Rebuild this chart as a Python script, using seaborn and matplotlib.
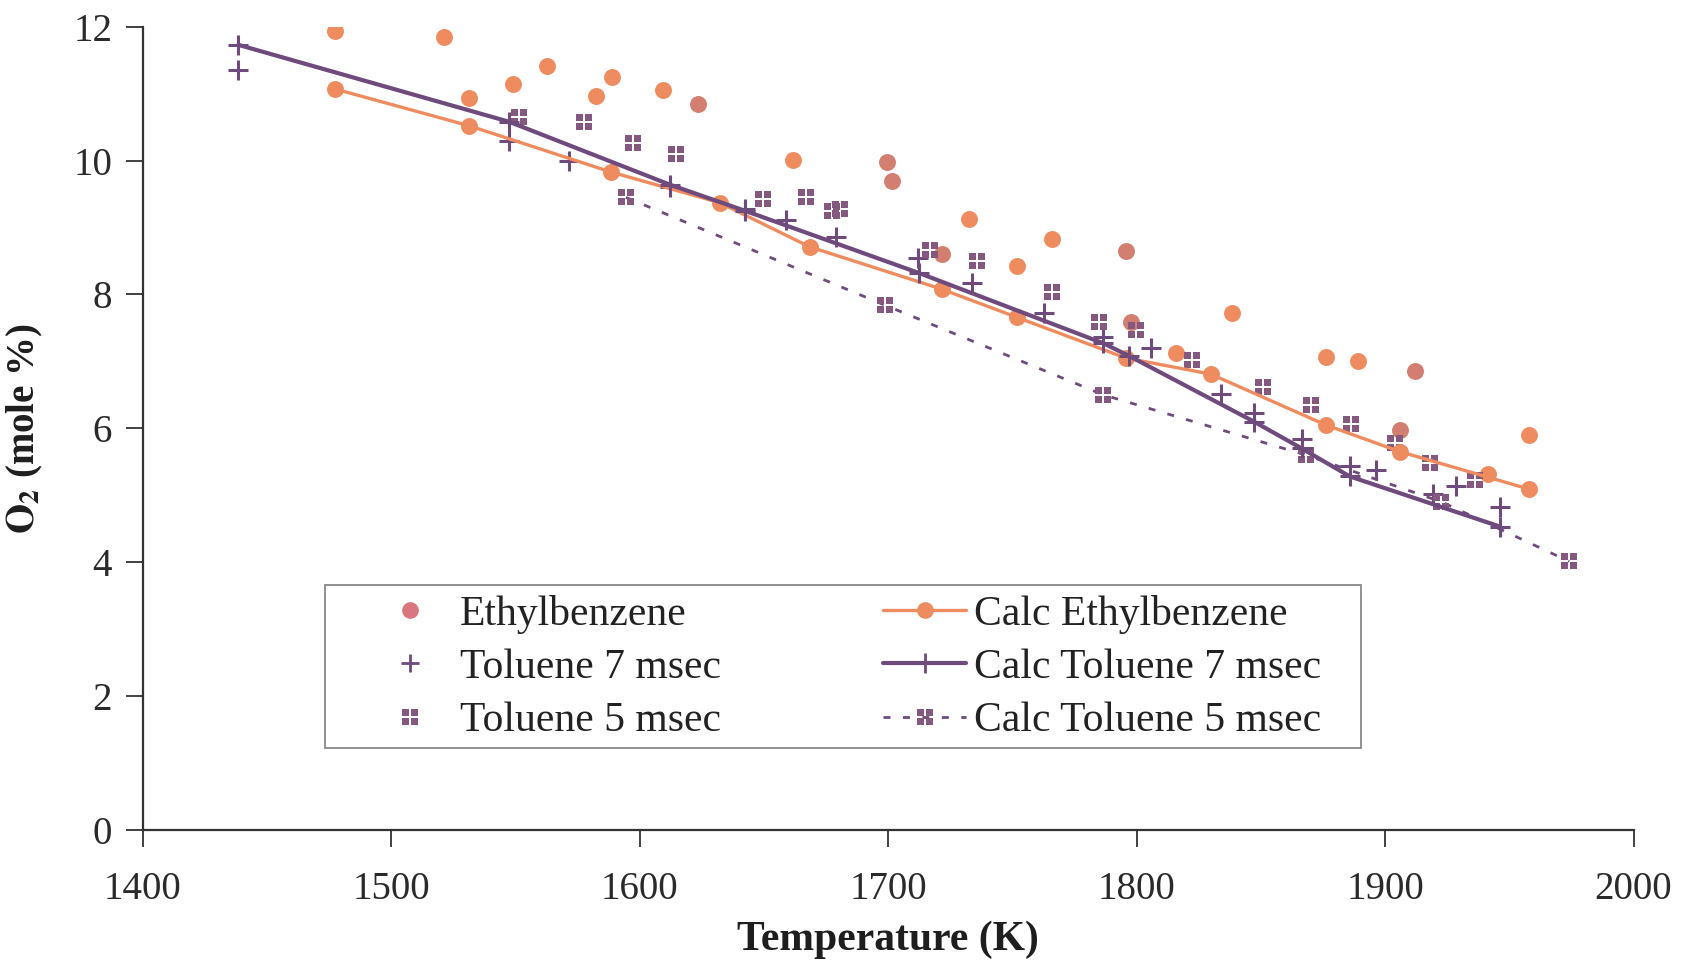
import numpy as np
import pandas as pd
import matplotlib
matplotlib.use("Agg")
import matplotlib.pyplot as plt
from matplotlib.path import Path
from matplotlib.lines import Line2D
from matplotlib.patches import Rectangle
import seaborn as sns

# ---------------- data ----------------
# Experimental ethylbenzene (darker rose circles)
eth_T = [1623.3, 1699.6, 1701.6, 1721.5, 1795.6, 1797.7, 1906.0, 1912.0]
eth_O2 = [10.85, 9.98, 9.70, 8.61, 8.65, 7.59, 5.97, 6.85]
# Additional ethylbenzene points (orange circles off the calc curve)
eth2_T = [1477.4, 1521.4, 1531.4, 1549.1, 1562.6, 1582.4, 1588.7, 1609.3,
          1661.6, 1732.6, 1751.7, 1765.8, 1815.7, 1838.6, 1876.1, 1889.0, 1958.0]
eth2_O2 = [11.93, 11.85, 10.94, 11.15, 11.42, 10.96, 11.25, 11.06,
           10.01, 9.13, 8.43, 8.83, 7.12, 7.72, 7.07, 7.00, 5.90]

# Experimental toluene 7 msec
tol7_T = [1438.5, 1547.5, 1571.5, 1612.2, 1642.4, 1658.8, 1679.0, 1711.9, 1733.9,
          1762.7, 1786.6, 1805.8, 1833.8, 1847.2, 1866.4, 1885.8, 1896.3, 1919.1,
          1928.5, 1946.3]
tol7_O2 = [11.36, 10.29, 9.99, 9.61, 9.28, 9.11, 8.86, 8.54, 8.17,
           7.72, 7.37, 7.20, 6.51, 6.23, 5.84, 5.43, 5.37, 5.02,
           5.13, 4.83]

# Experimental toluene 5 msec
tol5_T = [1551.4, 1577.6, 1597.4, 1614.6, 1649.7, 1666.8, 1677.3, 1680.6, 1716.8,
          1735.9, 1765.8, 1784.9, 1799.7, 1822.5, 1851.0, 1870.0, 1886.1, 1903.9,
          1918.0, 1936.1]
tol5_O2 = [10.65, 10.57, 10.26, 10.10, 9.43, 9.45, 9.24, 9.28, 8.66,
           8.50, 8.03, 7.59, 7.47, 7.02, 6.61, 6.35, 6.07, 5.78,
           5.48, 5.23]

# Calculated curves
calc_eth_T = [1477.4, 1531.4, 1588.4, 1632.3, 1668.5, 1721.5, 1751.7, 1795.6,
              1829.8, 1876.1, 1906.0, 1958.0]
calc_eth_O2 = [11.07, 10.52, 9.83, 9.37, 8.71, 8.08, 7.66, 7.05,
               6.81, 6.05, 5.65, 5.09]
calc_eth_extra_T = [1941.5]
calc_eth_extra_O2 = [5.32]

calc_tol7_T = [1438.5, 1547.5, 1612.2, 1642.4, 1712.4, 1786.6, 1797.0, 1847.2,
               1866.4, 1885.8, 1946.3]
calc_tol7_O2 = [11.73, 10.58, 9.64, 9.25, 8.32, 7.27, 7.08, 6.10,
                5.70, 5.28, 4.53]

calc_tol5_T = [1594.5, 1698.7, 1786.6, 1868.1, 1922.7, 1974.1]
calc_tol5_O2 = [9.45, 7.84, 6.50, 5.60, 4.90, 4.01]

x_ticks = [1400, 1500, 1600, 1700, 1800, 1900, 2000]
y_ticks = [0, 2, 4, 6, 8, 10, 12]

# ---------------- style ----------------
sns.set_style("ticks")
plt.rcParams["font.family"] = ["Liberation Serif", "DejaVu Serif"]
plt.rcParams["mathtext.fontset"] = "stix"

ORANGE = "#ef8c5f"
ROSE = "#d27f72"
ROSE_LEG = "#d9767f"
PURPLE = "#6f4a7d"
PURPLE_SQ = "#85587f"

CIRCLE_MS = 12.2
CIRCLE_S = CIRCLE_MS ** 2
DOTTED = (0, (2.5, 4.5))


def cluster_marker():
    verts, codes = [], []
    h = 0.36
    for cx, cy in [(-0.5, -0.5), (0.5, -0.5), (-0.5, 0.5), (0.5, 0.5)]:
        verts += [(cx - h, cy - h), (cx + h, cy - h), (cx + h, cy + h),
                  (cx - h, cy + h), (cx - h, cy - h)]
        codes += [Path.MOVETO, Path.LINETO, Path.LINETO, Path.LINETO, Path.CLOSEPOLY]
    return Path(verts, codes)


CLUSTER = cluster_marker()

fig = plt.figure(figsize=(16.83, 9.63), dpi=100)
ax = fig.add_axes([0.0848, 0.1384, 0.8858, 0.8338])

# calculated curves
sns.lineplot(x=calc_tol5_T, y=calc_tol5_O2, ax=ax, sort=False, estimator=None,
             color=PURPLE, linewidth=2.0, linestyle=DOTTED, marker=CLUSTER,
             markersize=12, markeredgewidth=0, markerfacecolor=PURPLE_SQ,
             markeredgecolor=PURPLE_SQ)
sns.lineplot(x=calc_eth_T, y=calc_eth_O2, ax=ax, sort=False, estimator=None,
             color=ORANGE, linewidth=2.4, marker="o", markersize=CIRCLE_MS,
             markeredgewidth=0, markeredgecolor=ORANGE)
sns.lineplot(x=calc_tol7_T, y=calc_tol7_O2, ax=ax, sort=False, estimator=None,
             color=PURPLE, linewidth=3.0, marker="+", markersize=14,
             markeredgewidth=2.2, markeredgecolor=PURPLE)
sns.scatterplot(x=calc_eth_extra_T, y=calc_eth_extra_O2, ax=ax, color=ORANGE,
                s=CIRCLE_S, linewidth=0, marker="o")

# experimental points
sns.scatterplot(x=eth2_T, y=eth2_O2, ax=ax, color=ORANGE, s=CIRCLE_S,
                linewidth=0, marker="o")
sns.scatterplot(x=eth_T, y=eth_O2, ax=ax, color=ROSE, s=CIRCLE_S, linewidth=0,
                marker="o")
sns.scatterplot(x=tol7_T, y=tol7_O2, ax=ax, color=PURPLE, s=190, linewidth=2.2,
                marker="+")
sns.scatterplot(x=tol5_T, y=tol5_O2, ax=ax, color=PURPLE_SQ, s=135, linewidth=0,
                marker=CLUSTER)

# ---------------- axes ----------------
ax.set_xlim(1400, 2000)
ax.set_ylim(0, 12)
ax.set_xticks(x_ticks)
ax.set_yticks(y_ticks)
ax.tick_params(axis="both", direction="out", length=12, width=1.3,
               colors="#333333", labelsize=28, labelcolor="#2a2a2a")
ax.tick_params(axis="x", pad=18)
ax.tick_params(axis="y", pad=10)
for side in ["top", "right"]:
    ax.spines[side].set_visible(False)
for side in ["left", "bottom"]:
    ax.spines[side].set_linewidth(1.6)
    ax.spines[side].set_color("#333333")

ax.set_xlabel("Temperature (K)", fontsize=30, fontweight="bold", color="#1e1e1e",
              labelpad=9)
ax.set_ylabel(r"$\mathbf{O_2}$ (mole %)", fontsize=28, fontweight="bold",
              color="#1e1e1e", labelpad=20)

# ---------------- legend ----------------
handles = [
    Line2D([], [], linestyle="none", marker="o", markersize=12, color=ROSE_LEG,
           markeredgewidth=0),
    Line2D([], [], linestyle="none", marker="+", markersize=13, color=PURPLE,
           markeredgewidth=2.0),
    Line2D([], [], linestyle="none", marker=CLUSTER, markersize=11,
           color=PURPLE_SQ, markeredgewidth=0),
    Line2D([], [], color=ORANGE, linewidth=2.4, marker="o", markersize=12,
           markeredgewidth=0),
    Line2D([], [], color=PURPLE, linewidth=3.0, marker="+", markersize=14,
           markeredgewidth=2.0),
    Line2D([], [], color=PURPLE, linewidth=2.0, linestyle=DOTTED,
           marker=CLUSTER, markersize=12, markeredgewidth=0,
           markerfacecolor=PURPLE_SQ),
]
labels = ["Ethylbenzene", "Toluene 7 msec", "Toluene 5 msec",
          "Calc Ethylbenzene", "Calc Toluene 7 msec", "Calc Toluene 5 msec"]
leg = fig.legend(handles, labels, ncol=2, loc="center",
                 bbox_to_anchor=(0.5022, 0.3068), fontsize=30, frameon=False,
                 handlelength=1.98, handletextpad=0.2, labelspacing=0.35,
                 borderpad=0, columnspacing=3.9, borderaxespad=0)
for t in leg.get_texts():
    t.set_color("#222222")

frame = Rectangle((0.1932, 0.2232), 0.8087 - 0.1932, 0.3925 - 0.2232,
                  transform=fig.transFigure, facecolor="white",
                  edgecolor="#888888", linewidth=1.3, zorder=1)
fig.patches.append(frame)
leg.set_zorder(5)

fig.savefig("out.png", dpi=100)
